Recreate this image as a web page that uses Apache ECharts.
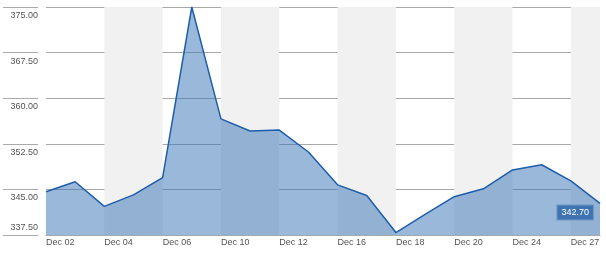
<!DOCTYPE html>
<html><head><meta charset="utf-8">
<script src="https://cdn.jsdelivr.net/npm/echarts@6/dist/echarts.min.js"></script>
<style>html,body{margin:0;padding:0;background:#fff}#c{width:606px;height:258px}</style>
</head><body><div id="c"></div>
<script>
const categories = ['Dec 02','Dec 03','Dec 04','Dec 05','Dec 06','Dec 09','Dec 10','Dec 11','Dec 12','Dec 13','Dec 16','Dec 17','Dec 18','Dec 19','Dec 20','Dec 23','Dec 24','Dec 26','Dec 27','Dec 30'];
const values = [344.6,346.25,342.2,344.1,346.95,375.0,356.6,354.6,354.75,351.15,345.75,344.0,337.9,340.9,343.8,345.1,348.2,349.05,346.4,342.7];
const bandStarts = ['Dec 04','Dec 10','Dec 16','Dec 20','Dec 27'];
const bandEnds   = ['Dec 06','Dec 12','Dec 18','Dec 24','Dec 30'];
const yTicks = {min:337.5, max:375, step:7.5};
const FONT = '"Liberation Sans Narrow","Arial Narrow","Liberation Sans",Arial,sans-serif';

const chart = echarts.init(document.getElementById('c'));
const last = values.length-1;
const seriesData = values.map((v,i)=> i===last ? {
  value:v, symbol:'circle', symbolSize:0.1, itemStyle:{color:'rgba(0,0,0,0)',borderWidth:0},
  label:{show:true, position:'left', distance:7, offset:[0,9],
    formatter:p=>p.value.toFixed(2), color:'#fff', fontFamily:FONT, fontSize:9,
    backgroundColor:'#3f74b0', padding:[3,4,2,4], borderColor:'#6f98c8', borderWidth:1}
} : {value:v, symbol:'none'});
chart.setOption({
  animation:false,
  grid:{left:46,right:6,top:7,bottom:23,containLabel:false,outerBoundsMode:'none',show:false},
  xAxis:{type:'category',data:categories,boundaryGap:false,z:0,
    axisLine:{show:true,lineStyle:{color:'#999',width:1}},
    axisTick:{show:false},
    axisLabel:{interval:1,align:'left',color:'#555',fontFamily:FONT,fontSize:9,margin:3},
    splitLine:{show:false},
    splitArea:{show:false}
  },
  yAxis:{type:'value',min:yTicks.min,max:yTicks.max,interval:yTicks.step,offset:8,z:1,
    axisLine:{show:false},
    axisTick:{show:true,length:35,lineStyle:{color:'#aaa'}},
    axisLabel:{
      formatter:v=>v===yTicks.min?'{lo|'+v.toFixed(2)+'}':'{hi|'+v.toFixed(2)+'}',
      margin:0,verticalAlign:'middle',
      rich:{
        hi:{color:'#555',fontFamily:FONT,fontSize:9,lineHeight:11,padding:[17,0,0,0],align:'right'},
        lo:{color:'#555',fontFamily:FONT,fontSize:9,lineHeight:11,padding:[0,0,15,0],align:'right'}
      }},
    splitLine:{show:true,lineStyle:{color:'#a8a8a8',width:1}}
  },
  series:[
    {type:'line',data:[],z:0,silent:true,
      markArea:{silent:true,itemStyle:{color:'#f1f1f1'},
        data:bandStarts.map((s,i)=>[{xAxis:s},{xAxis:bandEnds[i]}])}},
    {type:'line',data:seriesData,showSymbol:true,z:2,
      lineStyle:{color:'#1f5eaa',width:1.5},
      areaStyle:{color:'#3372b6',opacity:0.5,origin:'start'}}
  ]
});
</script></body></html>
